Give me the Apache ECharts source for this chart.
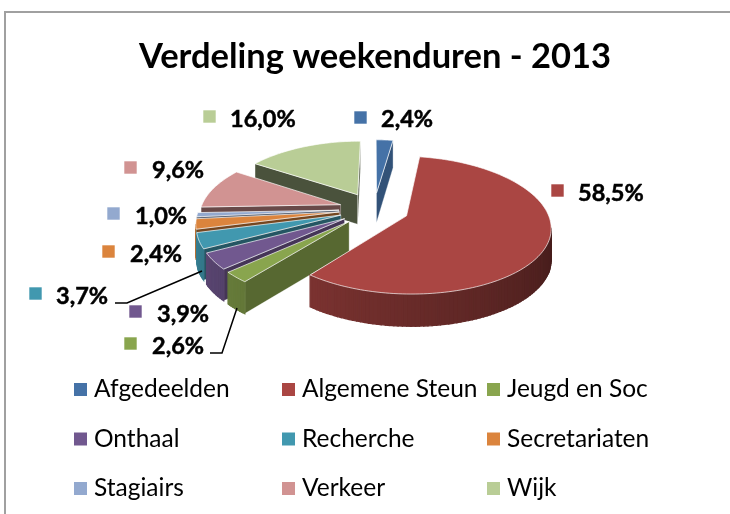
<!DOCTYPE html>
<html><head><meta charset="utf-8">
<style>html,body{margin:0;padding:0;background:#fff}#c{width:730px;height:514px}</style>
<script src="https://cdn.jsdelivr.net/npm/echarts@6/dist/echarts.min.js"></script>
</head><body><div id="c"></div>
<script>
var categories = ['Afgedeelden','Algemene Steun','Jeugd en Soc','Onthaal','Recherche','Secretariaten','Stagiairs','Verkeer','Wijk'];
var values = [2.4,58.5,2.6,3.9,3.7,2.4,1.0,9.6,16.0];
var colors = ['#4572A7','#AA4643','#89A54E','#71588F','#4198AF','#DB843D','#93A9CF','#D19392','#B9CD96'];
var paintOrder = [1,9,8,7,6,5,4,3,2];
// label layout: [key x, key y, text x, text centre y]
var labelLayout = [[354,111,381,119],[551,184,578,193],[124,337,152,346],[129,305,157,314],[29,287,56,296],[102,245,130,254],[107,207,135,216],[124,161,152,170],[203,110,230,119]];
var leaders = {2:[[210,353],[222,353],[237,308]],4:[[115,303],[127,303],[202,271]]};

var EXPLODE = 0.25, CX = 374, CY = 209;
function project(X,Y){return [CX+X*(140-22*Y), CY-Y*(67-9.3*Y)];}
function depth(Y){return 30-2*Y;}
function shade(hex,f){var n=parseInt(hex.slice(1),16);return 'rgb('+[(n>>16)&255,(n>>8)&255,n&255].map(function(c){return Math.round(c*f);}).join(',')+')';}
var total = values.reduce(function(a,b){return a+b;},0);
function wedge(i){
  var a0=0;for(var k=0;k<i;k++)a0+=values[k]/total*360;
  var a1=a0+values[i]/total*360, mid=(a0+a1)/2*Math.PI/180;
  var ox=EXPLODE*Math.sin(mid), oy=EXPLODE*Math.cos(mid);
  var pts=[{X:ox,Y:oy,deg:null}],n=Math.max(2,Math.ceil((a1-a0)/1.5));
  for(var s=0;s<=n;s++){var d=a0+(a1-a0)*s/n,r=d*Math.PI/180;pts.push({X:ox+Math.sin(r),Y:oy+Math.cos(r),deg:d});}
  return {pts:pts,a0:a0,a1:a1};
}
function makeRender(i){
  return function(params,api){
    var w=wedge(i),pts=w.pts,ch=[],col=colors[i];
    var top=pts.map(function(p){return project(p.X,p.Y);});
    var len=pts.length;
    for(var e=0;e<len;e++){
      var pa=pts[e],pb=pts[(e+1)%len],A=top[e],B=top[(e+1)%len];
      if(B[0]-A[0]>=0)continue;
      var radial=(pa.deg===null||pb.deg===null),f;
      if(radial){var nrm=(pa.deg===null?pb.deg-90:pa.deg+90);f=Math.max(.38,.72-(nrm-98)*.0028);}
      else{f=Math.min(.85,Math.max(.38,.4+((pa.deg+pb.deg)/2-100)*.0027));}
      var c=shade(col,f);
      ch.push({type:'polygon',shape:{points:[A,B,[B[0],B[1]+depth(pb.Y)],[A[0],A[1]+depth(pa.Y)]]},
        style:{fill:c,stroke:radial?'rgba(255,255,255,.45)':c,lineWidth:radial?.7:1.3}});
    }
    ch.push({type:'polygon',shape:{points:top},style:{fill:col,stroke:'rgba(255,255,255,.75)',lineWidth:.9}});
    if(leaders[i])ch.push({type:'polyline',shape:{points:leaders[i]},style:{fill:null,stroke:'#000',lineWidth:1.5}});
    var L=labelLayout[i];
    ch.push({type:'rect',shape:{x:L[0],y:L[1],width:13,height:13},style:{fill:col,stroke:'rgba(255,255,255,.6)',lineWidth:1}});
    ch.push({type:'text',style:{x:L[2],y:L[3],text:values[i].toFixed(1).replace('.',',')+'%',fill:'#000',stroke:'#000',lineWidth:.5,font:'bold 23.5px Lato',textAlign:'left',textVerticalAlign:'middle'}});
    return {type:'group',children:ch};
  };
}
var series=categories.map(function(name,i){
  return {type:'custom',name:name,coordinateSystem:'none',z:paintOrder[i],silent:true,animation:false,clip:false,
    itemStyle:{color:colors[i]},data:[[values[i]]],renderItem:makeRender(i)};
});
function col(left,idx){
  return {orient:'vertical',left:left,top:377,itemWidth:13,itemHeight:13,itemGap:24.5,icon:'rect',padding:0,selectedMode:false,
    data:idx.map(function(i){return categories[i];}),
    textStyle:{fontFamily:'Lato',fontSize:24.5,color:'#000',padding:[0,0,0,2]}};
}
var chart=echarts.init(document.getElementById('c'),null,{renderer:'canvas'});
chart.setOption({
  animation:false,backgroundColor:'#fff',
  title:{text:'Verdeling weekenduren - 2013',left:370,top:34,textAlign:'center',textStyle:{fontFamily:'Lato',fontWeight:'bold',fontSize:34.5,color:'#000'}},
  legend:[col(74,[0,3,6]),col(282,[1,4,7]),col(487,[2,5,8])],
  graphic:[{type:'rect',z:-1,shape:{x:5,y:12,width:800,height:600},style:{fill:'#fff',stroke:'#a0a0a0',lineWidth:2}}],
  series:series
});
</script></body></html>
